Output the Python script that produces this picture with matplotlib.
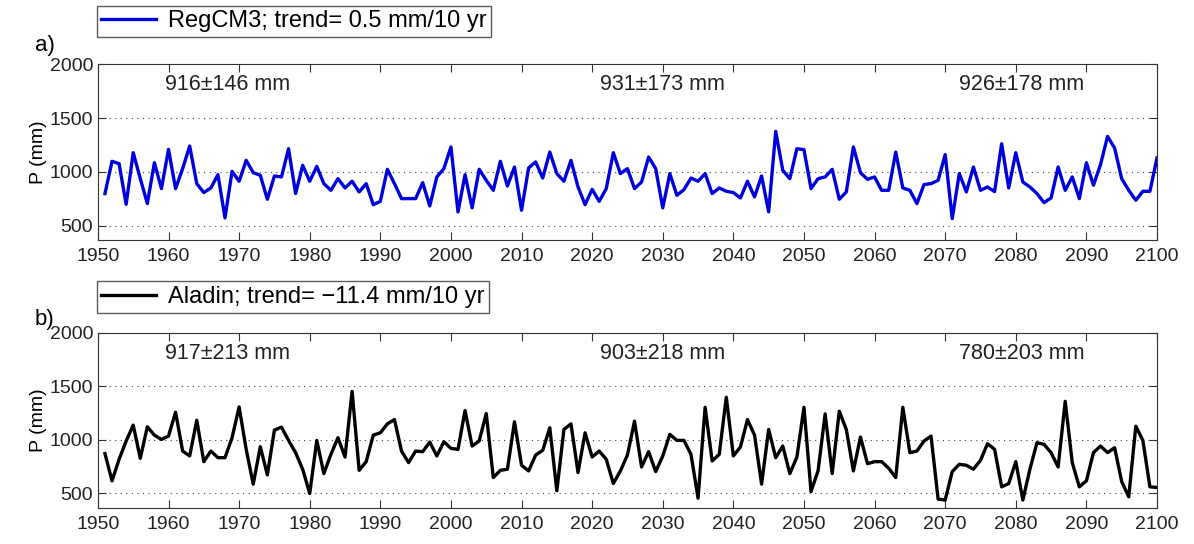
import numpy as np
import matplotlib
matplotlib.use("Agg")
import matplotlib.pyplot as plt

plt.rcParams['font.family'] = ['Liberation Sans', 'DejaVu Sans']

years = np.arange(1951, 2101)

regcm3 = [
    800, 1099, 1077, 700, 1179, 940, 707, 1086, 846, 1210,
    846, 1031, 1241, 892, 809, 852, 975, 574, 1006, 914,
    1108, 994, 969, 747, 963, 954, 1216, 800, 1062, 914,
    1052, 892, 830, 938, 852, 914, 815, 892, 697, 728,
    1025, 892, 753, 753, 753, 901, 685, 954, 1031, 1232,
    630, 975, 667, 1025, 923, 830, 1099, 870, 1046, 645,
    1037, 1093, 944, 1185, 985, 914, 1108, 861, 697, 839,
    728, 846, 1179, 985, 1031, 846, 907, 1139, 1031, 667,
    985, 784, 836, 944, 914, 985, 800, 852, 821, 809,
    759, 914, 769, 963, 630, 1377, 1015, 938, 1216, 1207,
    846, 938, 954, 1025, 747, 815, 1232, 994, 932, 954,
    830, 830, 1185, 852, 830, 707, 883, 892, 923, 1161,
    568, 985, 815, 1046, 830, 861, 818, 1262, 852, 1179,
    907, 861, 800, 716, 759, 1046, 830, 954, 753, 1086,
    877, 1068, 1330, 1222, 938, 830, 738, 821, 821, 1130,
]

aladin = [
    870, 615, 817, 988, 1137, 826, 1121, 1043, 1003, 1034,
    1258, 894, 848, 1183, 795, 894, 832, 832, 1019, 1307,
    910, 584, 935, 671, 1090, 1118, 994, 879, 724, 497,
    994, 683, 863, 1019, 838, 1453, 714, 795, 1043, 1065,
    1149, 1189, 894, 786, 894, 888, 978, 848, 981, 919,
    910, 1273, 941, 988, 1245, 646, 714, 724, 1168, 761,
    708, 857, 901, 1112, 522, 1096, 1149, 693, 1065, 838,
    894, 817, 590, 708, 857, 1174, 745, 888, 702, 848,
    1050, 994, 994, 863, 453, 1304, 801, 863, 1398, 848,
    932, 1189, 1043, 584, 1096, 832, 941, 683, 838, 1304,
    515, 710, 1242, 683, 1267, 1096, 708, 1025, 776, 795,
    795, 733, 646, 1304, 879, 894, 988, 1034, 444, 435,
    702, 770, 761, 724, 807, 963, 910, 559, 590, 795,
    435, 724, 972, 957, 879, 745, 1360, 786, 559, 615,
    879, 941, 879, 925, 609, 466, 1127, 994, 559, 553,
]

labels = ["RegCM3; trend= 0.5 mm/10 yr", "Aladin; trend= \u221211.4 mm/10 yr"]
stats_a = ["916\u00b1146 mm", "931\u00b1173 mm", "926\u00b1178 mm"]
stats_b = ["917\u00b1213 mm", "903\u00b1218 mm", "780\u00b1203 mm"]
stat_years = [1968.4, 2030, 2080.8]
xticks = np.arange(1950, 2101, 10)
yticks = [500, 1000, 1500, 2000]

fig = plt.figure(figsize=(11.94, 5.44), dpi=100)
ax1 = fig.add_axes([0.082, 0.559, 0.887, 0.323])
ax2 = fig.add_axes([0.082, 0.066, 0.887, 0.322])


def style(ax, ylo, stats):
    ax.set_xlim(1950, 2100)
    ax.set_ylim(ylo, 2000)
    ax.set_xticks(xticks)
    ax.set_yticks(yticks)
    ax.tick_params(direction='in', top=True, right=True, labelsize=14,
                   length=6, width=0.8, colors='#333333', labelcolor='#222222')
    ax.tick_params(axis='x', pad=6)
    ax.set_ylabel("P (mm)", fontsize=14, labelpad=2)
    for yv in [500, 1000, 1500]:
        ax.axhline(yv, color='#444444', linestyle=(0, (1, 4)), linewidth=0.8, zorder=0)
    for sp in ax.spines.values():
        sp.set_linewidth(0.8)
        sp.set_color('#333333')
    for yr, s in zip(stat_years, stats):
        ax.text(yr, 1810, s, ha='center', va='center', fontsize=15.5, color='#222222')


ax1.plot(years, regcm3, color='#0000dd', linewidth=2.4, label=labels[0])
style(ax1, 370, stats_a)
ax1.legend(loc='lower left', bbox_to_anchor=(0.081, 0.932), bbox_transform=fig.transFigure,
           frameon=True, fancybox=False, edgecolor='#333333', fontsize=17,
           handlelength=2.3, borderpad=0.2, handletextpad=0.5, borderaxespad=0.0)
fig.text(0.029, 0.917, "a)", fontsize=16, ha='left', va='center')

ax2.plot(years, aladin, color='black', linewidth=2.4, label=labels[1])
style(ax2, 360, stats_b)
ax2.legend(loc='lower left', bbox_to_anchor=(0.081, 0.425), bbox_transform=fig.transFigure,
           frameon=True, fancybox=False, edgecolor='#333333', fontsize=17,
           handlelength=2.3, borderpad=0.2, handletextpad=0.5, borderaxespad=0.0)
fig.text(0.029, 0.412, "b)", fontsize=16, ha='left', va='center')

fig.savefig("out.png", dpi=100)
